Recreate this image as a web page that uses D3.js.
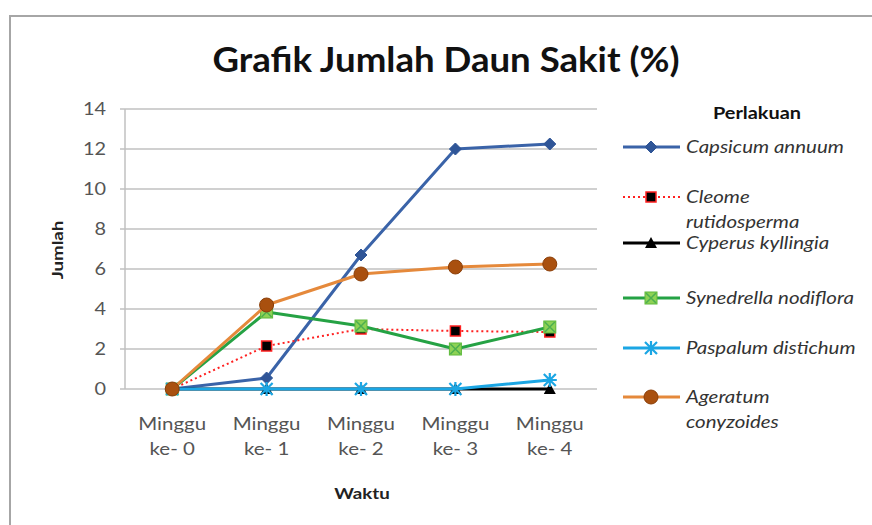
<!DOCTYPE html>
<html><head><meta charset="utf-8">
<script src="https://cdn.jsdelivr.net/npm/d3@7"></script>
<style>body{margin:0;background:#fff}svg{display:block}</style>
</head><body><svg id="c" width="872" height="525"></svg>
<script>
const categories = ["Minggu ke- 0","Minggu ke- 1","Minggu ke- 2","Minggu ke- 3","Minggu ke- 4"];
const seriesNames = ["Capsicum annuum","Cleome rutidosperma","Cyperus kyllingia","Synedrella nodiflora","Paspalum distichum","Ageratum conyzoides"];
const capsicum   = [0, 0.55, 6.7, 12.0, 12.25];
const cleome     = [0, 2.15, 3.0, 2.9, 2.85];
const cyperus    = [0, 0, 0, 0, 0];
const synedrella = [0, 3.85, 3.15, 2.0, 3.1];
const paspalum   = [0, 0, 0, 0, 0.45];
const ageratum   = [0, 4.2, 5.75, 6.1, 6.25];
const yTicks = [0,2,4,6,8,10,12,14];

const styles = [
  {line:"#3A63A8", dash:null, marker:"diamond", fill:"#2F5597", stroke:"#2F5597"},
  {line:"#FF2020", dash:"2,3", marker:"square", fill:"#000", stroke:"#FF2020"},
  {line:"#000", dash:null, marker:"triangle", fill:"#000", stroke:"#000"},
  {line:"#25A244", dash:null, marker:"xsquare", fill:"#8ED255", stroke:"#5DB83A"},
  {line:"#1BA6E4", dash:null, marker:"star", fill:"#1BA6E4", stroke:"#1BA6E4"},
  {line:"#E5893B", dash:null, marker:"circle", fill:"#A9500F", stroke:"#A9500F"}
];
const data = [capsicum, cleome, cyperus, synedrella, paspalum, ageratum];

const svg = d3.select("#c");
const font = "Lato, 'Open Sans', sans-serif";
const STRETCH = 1.17;
function stretch(sel, f){
  sel.each(function(){
    const el = this;
    const tspans = el.querySelectorAll("tspan");
    const targets = tspans.length ? Array.from(tspans) : [el];
    targets.forEach(t=>{
      const w = t.getComputedTextLength();
      t.setAttribute("textLength", w*(f||STRETCH));
      t.setAttribute("lengthAdjust","spacingAndGlyphs");
    });
  });
}

// outer border
svg.append("rect").attr("x",10).attr("y",16).attr("width",880).attr("height",530)
  .attr("fill","none").attr("stroke","#A6A6A6").attr("stroke-width",2);

const x = d3.scaleBand().domain(categories).range([125,597]);
const y = d3.scaleLinear().domain([0,14]).range([389,109]);

// gridlines
svg.append("g").selectAll("line").data(yTicks).join("line")
  .attr("x1",120).attr("x2",597).attr("y1",d=>y(d)).attr("y2",d=>y(d))
  .attr("stroke","#C0C0C0").attr("stroke-width",1.5);
svg.append("line").attr("x1",125).attr("x2",125).attr("y1",109).attr("y2",389)
  .attr("stroke","#C0C0C0").attr("stroke-width",1.5);

// y tick labels
stretch(svg.append("g").selectAll("text").data(yTicks).join("text")
  .attr("x",106).attr("y",d=>y(d)).attr("dy","0.36em").attr("text-anchor","end")
  .attr("font-family",font).attr("font-size",17).attr("fill","#555").text(d=>d));

// x labels
const xl = svg.append("g").selectAll("text").data(categories).join("text")
  .attr("text-anchor","middle").attr("font-family",font).attr("font-size",17.5).attr("fill","#555");
xl.each(function(d){
  const parts = d.split(" ke- ");
  const t = d3.select(this);
  const cx = x(d)+x.bandwidth()/2;
  t.append("tspan").attr("x",cx).attr("y",430).text(parts[0]);
  t.append("tspan").attr("x",cx).attr("y",455).text("ke- "+parts[1]);
});
stretch(xl);

// axis titles
stretch(svg.append("text").attr("x",362).attr("y",499).attr("text-anchor","middle")
  .attr("font-family",font).attr("font-weight","bold").attr("font-size",16).attr("fill","#222").text("Waktu"));
stretch(svg.append("text").attr("transform","translate(63,250) rotate(-90)").attr("text-anchor","middle")
  .attr("font-family",font).attr("font-weight","bold").attr("font-size",16).attr("fill","#222").text("Jumlah"));

// title
svg.append("text").attr("x",446).attr("y",72).attr("text-anchor","middle")
  .attr("font-family",font).attr("font-weight","bold").attr("font-size",35).attr("fill","#111")
  .attr("textLength",467).attr("lengthAdjust","spacingAndGlyphs")
  .text("Grafik Jumlah Daun Sakit (%)");

function drawMarker(g, type, cx, cy, s){
  if(type==="diamond"){
    g.append("path").attr("d",`M${cx},${cy-6}L${cx+6},${cy}L${cx},${cy+6}L${cx-6},${cy}Z`).attr("fill",s.fill).attr("stroke",s.stroke);
  } else if(type==="square"){
    g.append("rect").attr("x",cx-5).attr("y",cy-5).attr("width",10).attr("height",10).attr("fill",s.fill).attr("stroke",s.stroke).attr("stroke-width",1.5);
  } else if(type==="triangle"){
    g.append("path").attr("d",`M${cx},${cy-6}L${cx+6},${cy+5}L${cx-6},${cy+5}Z`).attr("fill",s.fill);
  } else if(type==="xsquare"){
    g.append("rect").attr("x",cx-6).attr("y",cy-6).attr("width",12).attr("height",12).attr("fill",s.fill).attr("stroke",s.stroke);
    g.append("path").attr("d",`M${cx-5},${cy-5}L${cx+5},${cy+5}M${cx+5},${cy-5}L${cx-5},${cy+5}`).attr("stroke","#4CAF50").attr("stroke-width",1.5);
  } else if(type==="star"){
    g.append("path").attr("d",`M${cx-6},${cy-6}L${cx+6},${cy+6}M${cx+6},${cy-6}L${cx-6},${cy+6}M${cx},${cy-7}L${cx},${cy+7}M${cx-7},${cy}L${cx+7},${cy}`)
      .attr("stroke",s.stroke).attr("stroke-width",2.2);
  } else if(type==="circle"){
    g.append("circle").attr("cx",cx).attr("cy",cy).attr("r",7).attr("fill",s.fill).attr("stroke","#8B3E08");
  }
}

const line = d3.line().x((d,i)=>x(categories[i])+x.bandwidth()/2).y(d=>y(d));
data.forEach((vals,k)=>{
  const st = styles[k];
  const g = svg.append("g");
  g.append("path").attr("d",line(vals)).attr("fill","none").attr("stroke",st.line)
    .attr("stroke-width",st.dash?2:3).attr("stroke-dasharray",st.dash).attr("stroke-linejoin","round");
  vals.forEach((v,i)=>drawMarker(g, st.marker, x(categories[i])+x.bandwidth()/2, y(v), st));
});

// legend
stretch(svg.append("text").attr("x",757).attr("y",119).attr("text-anchor","middle")
  .attr("font-family",font).attr("font-weight","bold").attr("font-size",17).attr("fill","#111").text("Perlakuan"));
const legY = [147,197,243,298,348,397];
seriesNames.forEach((name,k)=>{
  const st = styles[k];
  const g = svg.append("g");
  const ly = legY[k];
  g.append("line").attr("x1",623).attr("x2",680).attr("y1",ly).attr("y2",ly)
    .attr("stroke",st.line).attr("stroke-width",st.dash?2:3).attr("stroke-dasharray",st.dash);
  drawMarker(g, st.marker, 651, ly, st);
  const words = (k===1||k===5) ? name.split(" ") : [name];
  const t = g.append("text").attr("font-family",font).attr("font-style","italic").attr("font-size",17.5).attr("fill","#333");
  words.forEach((w,i)=>t.append("tspan").attr("x",686).attr("y",ly+6+i*25).text(w));
  stretch(t);
});
</script></body></html>
